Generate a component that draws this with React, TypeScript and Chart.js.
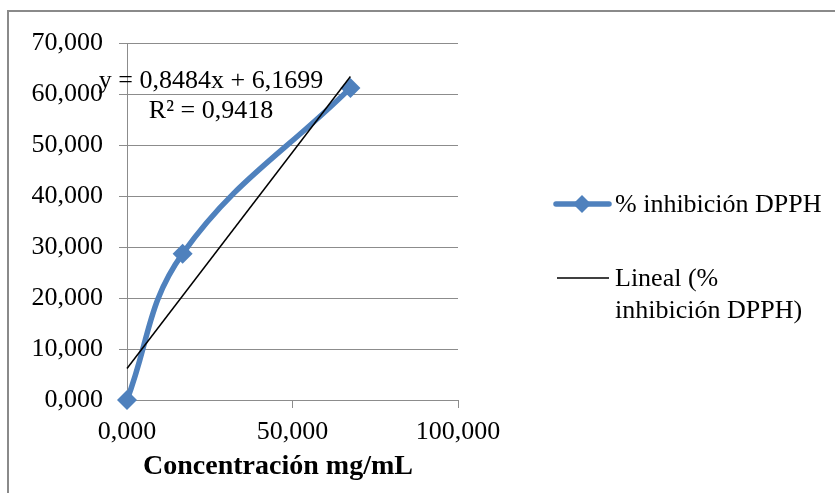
import React, { useEffect, useRef } from "react";
import { Chart, registerables } from "chart.js";

Chart.register(...registerables);

// Data
const concentration = [0, 16.8, 67.5];
const inhibition = [0, 28.7, 61.2];
const seriesName = "% inhibición DPPH";
const trendNameLines = ["Lineal (%", "inhibición DPPH)"];
const trendSlope = 0.8484;
const trendIntercept = 6.1699;
const equationLines = ["y = 0,8484x + 6,1699", "R² = 0,9418"];
const xTicks = [0, 50, 100];
const yTicks = [0, 10, 20, 30, 40, 50, 60, 70];
const xTitle = "Concentración mg/mL";

const FONT = '"Liberation Serif", "Times New Roman", serif';
const BLUE = "#4f81bd";
const GRID = "#8c8c8c";

const fmt = (v: number) => v.toFixed(3).replace(".", ",");

export default function App() {
  const ref = useRef<HTMLCanvasElement | null>(null);

  useEffect(() => {
    if (!ref.current) return;
    const xMin = Math.min(...concentration);
    const xMax = Math.max(...concentration);
    const trend = [xMin, xMax].map((x) => ({ x, y: trendSlope * x + trendIntercept }));
    const series = concentration.map((x, i) => ({ x, y: inhibition[i] }));

    const decor = {
      id: "decor",
      afterDraw(chart: any) {
        const ctx = chart.ctx as CanvasRenderingContext2D;
        ctx.save();
        // outer border (top & left)
        ctx.strokeStyle = "#8a8a8a";
        ctx.lineWidth = 2;
        ctx.beginPath();
        ctx.moveTo(835, 11);
        ctx.lineTo(8, 11);
        ctx.lineTo(8, 493);
        ctx.stroke();

        // equation label
        ctx.fillStyle = "#000";
        ctx.font = `26px ${FONT}`;
        ctx.textAlign = "center";
        ctx.textBaseline = "middle";
        ctx.fillText(equationLines[0], 211, 81);
        ctx.fillText(equationLines[1], 211, 111);

        // axis title
        ctx.font = `bold 28px ${FONT}`;
        ctx.fillText(xTitle, 278, 467);

        // legend: series
        ctx.font = `26px ${FONT}`;
        ctx.strokeStyle = BLUE;
        ctx.lineWidth = 5.5;
        ctx.lineCap = "round";
        ctx.beginPath();
        ctx.moveTo(556, 204);
        ctx.lineTo(609, 204);
        ctx.stroke();
        ctx.fillStyle = BLUE;
        ctx.beginPath();
        ctx.moveTo(582, 195);
        ctx.lineTo(591, 204);
        ctx.lineTo(582, 213);
        ctx.lineTo(573, 204);
        ctx.closePath();
        ctx.fill();
        ctx.fillStyle = "#000";
        ctx.textAlign = "left";
        ctx.fillText(seriesName, 615, 205);

        // legend: trend
        ctx.strokeStyle = "#000";
        ctx.lineWidth = 1.5;
        ctx.lineCap = "butt";
        ctx.beginPath();
        ctx.moveTo(557, 278);
        ctx.lineTo(609, 278);
        ctx.stroke();
        ctx.fillText(trendNameLines[0], 615, 279);
        ctx.fillText(trendNameLines[1], 615, 311);
        ctx.restore();
      },
    };

    const chart = new Chart(ref.current, {
      type: "scatter",
      data: {
        datasets: [
          {
            label: "Lineal (% inhibición DPPH)",
            data: trend,
            showLine: true,
            borderColor: "#000",
            borderWidth: 1.5,
            pointRadius: 0,
            fill: false,
            clip: false,
            order: 0,
          },
          {
            label: seriesName,
            data: series,
            showLine: true,
            borderColor: BLUE,
            backgroundColor: BLUE,
            borderWidth: 5.5,
            tension: 0.4,
            pointStyle: "rectRot",
            pointRadius: 10,
            pointBorderWidth: 0,
            fill: false,
            clip: false,
            order: 1,
          },
        ],
      },
      options: {
        responsive: false,
        animation: false,
        events: [],
        layout: { padding: { left: 0, top: 43, right: 377, bottom: 0 } },
        plugins: {
          legend: { display: false },
          tooltip: { enabled: false },
        },
        scales: {
          x: {
            type: "linear",
            min: 0,
            max: 100,
            afterBuildTicks: (s: any) => {
              s.ticks = xTicks.map((v) => ({ value: v }));
            },
            afterFit: (s: any) => {
              s.height = 93;
            },
            ticks: {
              callback: (v: any) => fmt(Number(v)),
              font: { family: FONT, size: 26 },
              color: "#000",
              padding: 9,
              maxRotation: 0,
              autoSkip: false,
            },
            grid: {
              drawOnChartArea: false,
              drawTicks: true,
              tickLength: 8,
              color: GRID,
              lineWidth: 1,
            },
            border: { display: true, color: GRID, width: 1 },
            title: { display: false },
          },
          y: {
            type: "linear",
            min: 0,
            max: 70,
            afterBuildTicks: (s: any) => {
              s.ticks = yTicks.map((v) => ({ value: v }));
            },
            afterFit: (s: any) => {
              s.width = 127;
            },
            ticks: {
              callback: (v: any) => fmt(Number(v)),
              font: { family: FONT, size: 26 },
              color: "#000",
              padding: 16,
              autoSkip: false,
            },
            grid: {
              drawOnChartArea: true,
              drawTicks: true,
              tickLength: 8,
              color: GRID,
              lineWidth: 1,
            },
            border: { display: true, color: GRID, width: 1 },
          },
        },
      },
      plugins: [decor],
    });
    return () => chart.destroy();
  }, []);

  return (
    <div style={{ position: "absolute", left: 0, top: 0, width: 835, height: 493, background: "#fff" }}>
      <canvas ref={ref} width={835} height={493} style={{ width: 835, height: 493, display: "block" }} />
    </div>
  );
}
